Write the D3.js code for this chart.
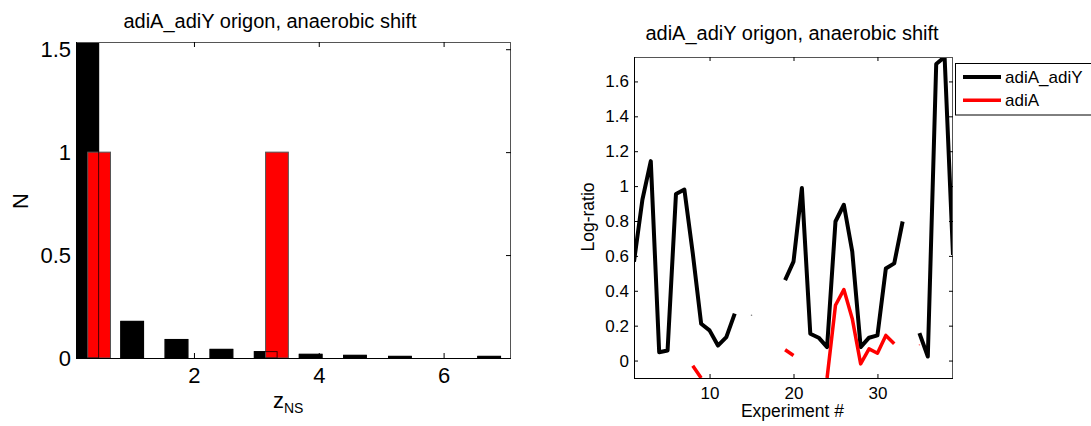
<!DOCTYPE html>
<html>
<head>
<meta charset="utf-8">
<script src="https://cdn.jsdelivr.net/npm/d3@7"></script>
<style>
  html, body { margin: 0; padding: 0; background: #fff; }
  svg { display: block; font-family: "Liberation Sans", Arial, sans-serif; }
</style>
</head>
<body>
<svg id="fig" width="1091" height="426"></svg>
<script>
// ---- histogram of z_NS ----
const histCenters = [0.29, 1.01, 1.72, 2.44, 3.15, 3.87, 4.58, 5.30, 6.01, 6.73];
const histAll     = [2.6, 0.178, 0.09, 0.042, 0.031, 0.018, 0.013, 0.008, 0, 0.008];
const redCenters  = [0.48, 3.33];
const redCounts   = [1, 1];
const histXTicks  = [2, 4, 6];
const histYTicks  = [0, 0.5, 1, 1.5];

// ---- log-ratio per experiment (null = missing) ----
const experiments = d3.range(1, 40);
const operonRatio = [0.567, 0.922, 1.143, 0.048, 0.058, 0.955, 0.98, 0.615, 0.211, 0.173,
                     0.086, 0.134, 0.269, null, 0.26, null, null, null, 0.461, 0.567,
                     0.989, 0.154, 0.131, 0.077, 0.797, 0.893, 0.624, 0.077, 0.131, 0.144,
                     0.528, 0.557, 0.797, null, 0.157, 0.023, 1.70, 1.74, 0.605];
const geneRatio   = [null, null, null, null, null, null, null, -0.03, -0.10, null,
                     null, null, null, null, null, null, null, null, 0.062, 0.029,
                     null, null, null, -0.10, 0.317, 0.407, 0.24, -0.019, 0.067, 0.042,
                     0.144, 0.096, null, null, 0.09, null, null, null, null];
const seriesNames = ["adiA_adiY", "adiA"];
const seriesColors = ["#000000", "#ff0000"];
const lineXTicks = [10, 20, 30];
const lineYTicks = [0, 0.2, 0.4, 0.6, 0.8, 1, 1.2, 1.4, 1.6];

const svg = d3.select("#fig");
svg.append("rect").attr("width", 1091).attr("height", 426).attr("fill", "#fff");
const defs = svg.append("defs");

function frame(g, L, R, T, B) {
  g.append("line").attr("x1", L).attr("x2", R).attr("y1", T + 0.5).attr("y2", T + 0.5).attr("stroke", "#555");
  g.append("line").attr("x1", R - 0.5).attr("x2", R - 0.5).attr("y1", T).attr("y2", B).attr("stroke", "#555");
  g.append("line").attr("x1", L).attr("x2", R).attr("y1", B + 0.5).attr("y2", B + 0.5).attr("stroke", "#000");
  g.append("line").attr("x1", L + 0.5).attr("x2", L + 0.5).attr("y1", T).attr("y2", B).attr("stroke", "#000");
}

function styleAxis(sel, fontSize, tickColor) {
  sel.select(".domain").remove();
  sel.selectAll(".tick line").attr("stroke", tickColor);
  sel.selectAll(".tick text").attr("font-size", fontSize).attr("fill", "#000")
     .attr("font-family", "Liberation Sans, Arial, sans-serif");
}

// ================= left: histogram =================
{
  const L = 76, R = 511, T = 42, B = 358;
  const x = d3.scaleLinear().domain([0.11, 7.08]).range([L, R]);
  const y = d3.scaleLinear().domain([0, 1.535]).range([B, T]);
  const bw = 0.365;
  const g = svg.append("g");

  defs.append("clipPath").attr("id", "clipL")
    .append("rect").attr("x", L).attr("y", T).attr("width", R - L).attr("height", B - T);
  const plot = g.append("g").attr("clip-path", "url(#clipL)");

  const blk = histCenters.map((c, i) => ({c, v: histAll[i]})).filter(d => d.v > 0);
  plot.selectAll("rect.blk").data(blk).join("rect")
    .attr("x", d => x(d.c - bw / 2)).attr("width", d => x(d.c + bw / 2) - x(d.c - bw / 2))
    .attr("y", d => y(d.v)).attr("height", d => y(0) - y(d.v))
    .attr("fill", "#000").attr("stroke", "#000");

  plot.selectAll("rect.red").data(redCenters.map((c, i) => ({c, v: redCounts[i]}))).join("rect")
    .attr("x", d => x(d.c - bw / 2)).attr("width", d => x(d.c + bw / 2) - x(d.c - bw / 2))
    .attr("y", d => y(d.v)).attr("height", d => y(0) - y(d.v))
    .attr("fill", "#ff0000").attr("stroke", "#555");

  // edges of the black bars stay visible above the red ones
  plot.selectAll("rect.edge").data(blk).join("rect")
    .attr("x", d => x(d.c - bw / 2)).attr("width", d => x(d.c + bw / 2) - x(d.c - bw / 2))
    .attr("y", d => y(d.v)).attr("height", d => y(0) - y(d.v))
    .attr("fill", "none").attr("stroke", "#000").attr("stroke-opacity", 0.75);

  frame(g, L, R, T, B);

  styleAxis(g.append("g").attr("transform", `translate(0,${B})`)
    .call(d3.axisBottom(x).tickValues(histXTicks).tickSize(-5).tickPadding(9).tickFormat(d3.format("d"))), 22, "#000");
  styleAxis(g.append("g").attr("transform", `translate(0,${T})`)
    .call(d3.axisTop(x).tickValues(histXTicks).tickSize(-5).tickFormat("")), 22, "#000");
  styleAxis(g.append("g").attr("transform", `translate(${L},0)`)
    .call(d3.axisLeft(y).tickValues(histYTicks).tickSize(-5).tickPadding(5).tickFormat(d => d === 0 ? "0" : d3.format("")(d))), 22, "#000");
  styleAxis(g.append("g").attr("transform", `translate(${R},0)`)
    .call(d3.axisRight(y).tickValues(histYTicks).tickSize(-5).tickFormat("")), 22, "#000");

  svg.append("text").attr("x", 270).attr("y", 28).attr("text-anchor", "middle")
    .attr("font-size", 20).text("adiA_adiY origon, anaerobic shift");
  svg.append("text").attr("transform", "translate(28,201) rotate(-90)").attr("text-anchor", "middle")
    .attr("font-size", 22).text("N");
  const zl = svg.append("text").attr("x", 273).attr("y", 408).attr("font-size", 22);
  zl.append("tspan").text("z");
  zl.append("tspan").attr("font-size", 14).attr("dy", 5).text("NS");
}

// ================= right: log-ratio lines =================
{
  const L = 634, R = 953, T = 57, B = 378;
  const x = d3.scaleLinear().domain([1, 39]).range([L, R]);
  const y = d3.scaleLinear().domain([-0.1, 1.74]).range([B, T]);
  const g = svg.append("g");

  defs.append("clipPath").attr("id", "clipR")
    .append("rect").attr("x", L).attr("y", T).attr("width", R - L).attr("height", B - T);
  const plot = g.append("g").attr("clip-path", "url(#clipR)");

  const line = d3.line().defined(d => d.v !== null).x(d => x(d.e)).y(d => y(d.v));
  [operonRatio, geneRatio].forEach((vals, k) => {
    const pts = experiments.map((e, i) => ({e, v: vals[i]}));
    plot.append("path").datum(pts).attr("d", line)
      .attr("fill", "none").attr("stroke", seriesColors[k])
      .attr("stroke-width", k === 0 ? 4 : 3.5).attr("stroke-linejoin", "round");
    // single defined points between gaps show as a faint speck
    const lone = pts.filter((d, i) => d.v !== null &&
      (i === 0 || pts[i - 1].v === null) && (i === pts.length - 1 || pts[i + 1].v === null));
    plot.selectAll(null).data(lone).join("circle")
      .attr("cx", d => x(d.e)).attr("cy", d => y(d.v)).attr("r", 0.8)
      .attr("fill", seriesColors[k]).attr("opacity", 0.5);
  });

  frame(g, L, R, T, B);

  styleAxis(g.append("g").attr("transform", `translate(0,${B})`)
    .call(d3.axisBottom(x).tickValues(lineXTicks).tickSize(-4).tickPadding(9)), 17, "#000");
  styleAxis(g.append("g").attr("transform", `translate(0,${T})`)
    .call(d3.axisTop(x).tickValues(lineXTicks).tickSize(-4).tickFormat("")), 17, "#000");
  styleAxis(g.append("g").attr("transform", `translate(${L},0)`)
    .call(d3.axisLeft(y).tickValues(lineYTicks).tickSize(-4).tickPadding(5).tickFormat(d => d3.format("")(+d.toFixed(1)))), 17, "#000");
  styleAxis(g.append("g").attr("transform", `translate(${R},0)`)
    .call(d3.axisRight(y).tickValues(lineYTicks).tickSize(-4).tickFormat("")), 17, "#000");

  svg.append("text").attr("x", 792).attr("y", 40).attr("text-anchor", "middle")
    .attr("font-size", 20).text("adiA_adiY origon, anaerobic shift");
  svg.append("text").attr("transform", "translate(594,217) rotate(-90)").attr("text-anchor", "middle")
    .attr("font-size", 17.5).text("Log-ratio");
  svg.append("text").attr("x", 792.5).attr("y", 417).attr("text-anchor", "middle")
    .attr("font-size", 17.5).text("Experiment #");

  // legend
  const lg = svg.append("g");
  lg.append("rect").attr("x", 955.5).attr("y", 63.5).attr("width", 200).attr("height", 51.5)
    .attr("fill", "#fff").attr("stroke", "#000");
  seriesNames.forEach((name, k) => {
    const yy = 77 + k * 23.3;
    lg.append("line").attr("x1", 963).attr("x2", 1001).attr("y1", yy).attr("y2", yy)
      .attr("stroke", seriesColors[k]).attr("stroke-width", k === 0 ? 4 : 3.5);
    lg.append("text").attr("x", 1005).attr("y", yy + 6).attr("font-size", 17).text(name);
  });
}
</script>
</body>
</html>
